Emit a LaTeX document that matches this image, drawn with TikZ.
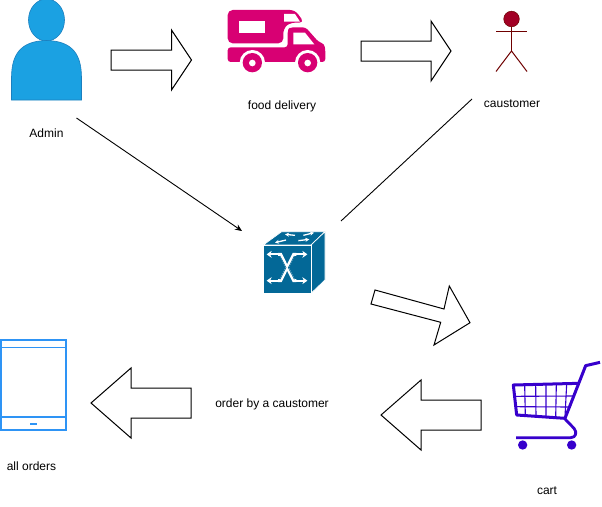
\documentclass[tikz,border=0pt]{standalone}
\usepackage{fontspec}
\setmainfont{Liberation Sans}
\usetikzlibrary{arrows.meta}
\definecolor{adminblue}{HTML}{1BA1E2}
\definecolor{adminedge}{HTML}{1B7FBF}
\definecolor{truckpink}{HTML}{D80073}
\definecolor{actorred}{HTML}{A20025}
\definecolor{actoredge}{HTML}{6F0000}
\definecolor{switchblue}{HTML}{036897}
\definecolor{cartblue}{HTML}{3700CC}
\definecolor{tabletblue}{HTML}{2E94F5}
\tikzset{
  label text/.style={font=\fontsize{12}{14}\selectfont,text=black,inner sep=0pt,anchor=center},
  block arrow/.style={draw=black,fill=white,line width=1pt,line join=miter},
  link/.style={draw=black,line width=0.9pt,-{Stealth[length=7pt,width=6pt]}},
  plain link/.style={draw=black,line width=0.9pt},
  white arrow/.style={draw=white,line width=2pt,-{Stealth[length=5pt,width=7pt]}},
  top arrow/.style={draw=white,line width=1.3pt,-{Stealth[length=4pt,width=4pt]}},
}
\begin{document}
\begin{tikzpicture}[x=1pt,y=-1pt]
\useasboundingbox (0,0) rectangle (602,506);
\fill[white] (0,0) rectangle (602,506);

% Admin
\begin{scope}
\clip (0,0) rectangle (602,506);
\path[fill=adminblue,draw=adminedge,line width=0.6pt] (46.5,20) ellipse [x radius=18,y radius=21];
\path[fill=adminblue,draw=adminedge,line width=0.6pt]
  (11.5,100) -- (11.5,78) .. controls (11.5,55) and (20,41) .. (46.5,40.5)
  .. controls (73,41) and (81.5,55) .. (81.5,78) -- (81.5,100) -- cycle;
\end{scope}

% Delivery truck
\begin{scope}[shift={(215,0)},scale=1/3]
\path[fill=truckpink,rounded corners=5pt]
  (38,130) -- (38,30) -- (240,30) -- (268,68) -- (225,68) -- (205,85) -- (205,130) -- cycle;
\path[fill=white] (73,63) rectangle (150,100);
\path[fill=white] (207,42) -- (240,42) -- (255,65) -- (207,65) -- cycle;
\path[fill=truckpink,rounded corners=3pt]
  (38,142) -- (218,142) -- (218,90) -- (225,82) -- (272,82) -- (310,125) -- (328,132)
  -- (331,150) -- (331,186) -- (38,186) -- cycle;
\path[fill=white] (235,98) -- (270,98) -- (298,133) -- (235,133) -- cycle;
\path[fill=white] (112,188) circle [radius=38];
\path[fill=white] (278,188) circle [radius=38];
\path[fill=white] (0,187) rectangle (340,240);
\foreach \wx in {112,278}{
  \path[fill=truckpink] (\wx,188) circle [radius=29];
  \path[fill=white] (\wx,189) circle [radius=10];
}
\end{scope}

% Actor
\path[fill=actorred,draw=actoredge,line width=0.5pt] (511.5,19) circle [radius=7.8];
\draw[actoredge,line width=1pt] (511.5,27) -- (511.5,51) (496,31.5) -- (527,31.5);
\draw[actoredge,line width=1pt] (496,71.5) -- (511.5,51) -- (527,71.5);

% Switch
\begin{scope}[shift={(250,220)},scale=1/3]
\path[fill=switchblue,draw=white,line width=0.7pt] (40,75) -- (95,35) -- (225,35) -- (183,75) -- cycle;
\path[fill=switchblue,draw=white,line width=0.7pt] (183,75) -- (225,35) -- (225,180) -- (183,220) -- cycle;
\path[fill=switchblue,draw=white,line width=0.7pt] (40,75) rectangle (183,220);
\draw[white arrow] (85,103) -- (50,103);
\draw[white arrow] (138,103) -- (172,103);
\draw[white arrow] (85,182) -- (50,182);
\draw[white arrow] (138,182) -- (172,182);
\draw[white,line width=3pt] (84,103) -- (92,103) -- (131,182) -- (139,182);
\draw[white,line width=3pt] (139,103) -- (131,103) -- (92,182) -- (84,182);
\draw[switchblue,line width=0.6pt] (90,108) -- (108,143) -- (90,178) (133,108) -- (115,143) -- (133,178);
\draw[top arrow] (135,46) -- (105,43);
\draw[top arrow] (160,46) -- (192,38);
\draw[top arrow] (108,60) -- (75,68);
\draw[top arrow] (145,62) -- (178,58);
\end{scope}

% Tablet
\begin{scope}[shift={(0,330)},scale=1/3]
\path[draw=tabletblue,line width=2.2pt,fill=white] (4,31) rectangle (197,301);
\draw[tabletblue,line width=1.6pt] (4,53) -- (197,53) (4,261) -- (197,261);
\path[fill=tabletblue] (90,278) rectangle (110,284);
\end{scope}

% Cart
\begin{scope}[shift={(500,355)},scale=1/3]
\draw[cartblue,line width=3pt,line join=round] (300,22) -- (257,32) -- (195,190) -- (50,180) -- (40,90) -- (235,85);
\draw[cartblue,line width=1.1pt] (74,90) -- (76,183) (107,89) -- (108,185) (138,88) -- (138,187) (169,88) -- (167,189) (200,87) -- (195,185);
\draw[cartblue,line width=1.1pt] (43,124) -- (222,123) (46,155) -- (208,156);
\draw[cartblue,line width=2.8pt,line join=round] (195,192) -- (222,220) .. controls (232,232) and (228,248) .. (212,248) -- (48,248);
\path[fill=cartblue] (68,270) circle [radius=14];
\path[fill=cartblue] (215,270) circle [radius=14];
\end{scope}

% Block arrows
\path[block arrow] (111,50) -- (171.5,50) -- (171.5,30) -- (191.5,60) -- (171.5,90) -- (171.5,70) -- (111,70) -- cycle;
\path[block arrow] (361,41) -- (431,41) -- (431,21) -- (451,51) -- (431,81) -- (431,61) -- (361,61) -- cycle;
\path[block arrow] (375,290) -- (444,309) -- (449.3,286) -- (470,322.7) -- (434,345) -- (440.7,322.3) -- (371,304) -- cycle;
\path[block arrow] (191,388) -- (131,388) -- (131,368) -- (91,403) -- (131,438) -- (131,418) -- (191,418) -- cycle;
\path[block arrow] (481,400) -- (421,400) -- (421,380) -- (381,415) -- (421,450) -- (421,430) -- (481,430) -- cycle;

% Labels
\node[label text] (admin) at (46.5,133.5) {Admin};
\node[label text] (food) at (282,106) {food delivery};
\node[label text] (cust) at (512,104) {caustomer};
\node[label text] (order) at (272,404) {order by a caustomer};
\node[label text] (allorders) at (31.5,466) {all orders};
\node[label text] (cartlabel) at (547,491) {cart};

% Connectors
\coordinate (adminend) at (76.5,118);
\coordinate (switchin) at (242,231);
\coordinate (custend) at (472,99);
\coordinate (switchout) at (341,221);
\draw[link] (adminend) -- (switchin);
\draw[plain link] (custend) -- (switchout);
\end{tikzpicture}
\end{document}
